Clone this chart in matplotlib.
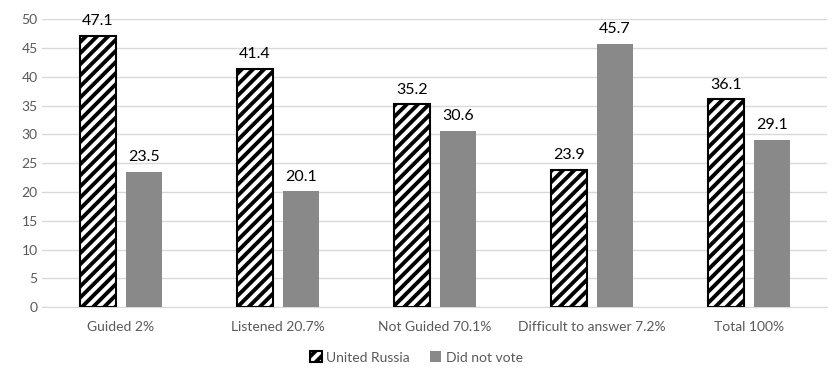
import numpy as np
import matplotlib
matplotlib.use('Agg')
from matplotlib import pyplot as plt

categories = ['Guided 2%', 'Listened 20.7%', 'Not Guided 70.1%', 'Difficult to answer 7.2%', 'Total 100%']
united_russia = [47.1, 41.4, 35.2, 23.9, 36.1]
did_not_vote = [23.5, 20.1, 30.6, 45.7, 29.1]

plt.rcParams['font.family'] = ['Lato', 'DejaVu Sans']
plt.rcParams['hatch.linewidth'] = 2.8

fig = plt.figure(figsize=(8.33, 3.76), dpi=100)
ax = fig.add_axes([0.051, 0.183, 0.942, 0.766])

x = np.arange(len(categories))
w = 0.23
gap = 0.064
b1 = ax.bar(x - (w + gap) / 2, united_russia, w, color='white', edgecolor='black',
            hatch='///', linewidth=1.5, label='United Russia', zorder=3)
b2 = ax.bar(x + (w + gap) / 2, did_not_vote, w, color='#898989', label='Did not vote', zorder=3)

for bars, vals in ((b1, united_russia), (b2, did_not_vote)):
    for r, v in zip(bars, vals):
        ax.text(r.get_x() + r.get_width() / 2, v + 1.3, f'{v:.1f}', ha='center', va='bottom',
                fontsize=11.5, color='black')

ax.set_xlim(-0.5, len(categories) - 0.5)
ax.set_ylim(0, 50)
ax.set_yticks(range(0, 51, 5))
ax.set_xticks(x)
ax.set_xticklabels(categories)
ax.tick_params(axis='both', length=0, labelsize=10, colors='#595959')
ax.tick_params(axis='x', pad=10)
ax.grid(axis='y', color='#d9d9d9', linewidth=1, zorder=0)
for s in ['top', 'right', 'left']:
    ax.spines[s].set_visible(False)
ax.spines['bottom'].set_color('#d9d9d9')

fig.legend(loc='lower center', bbox_to_anchor=(0.5, 0.0), ncol=2, frameon=False,
           fontsize=10, handlelength=0.8, handleheight=0.8, columnspacing=1.5,
           handletextpad=0.3, labelcolor='#595959')

fig.savefig('out.png', dpi=100)
